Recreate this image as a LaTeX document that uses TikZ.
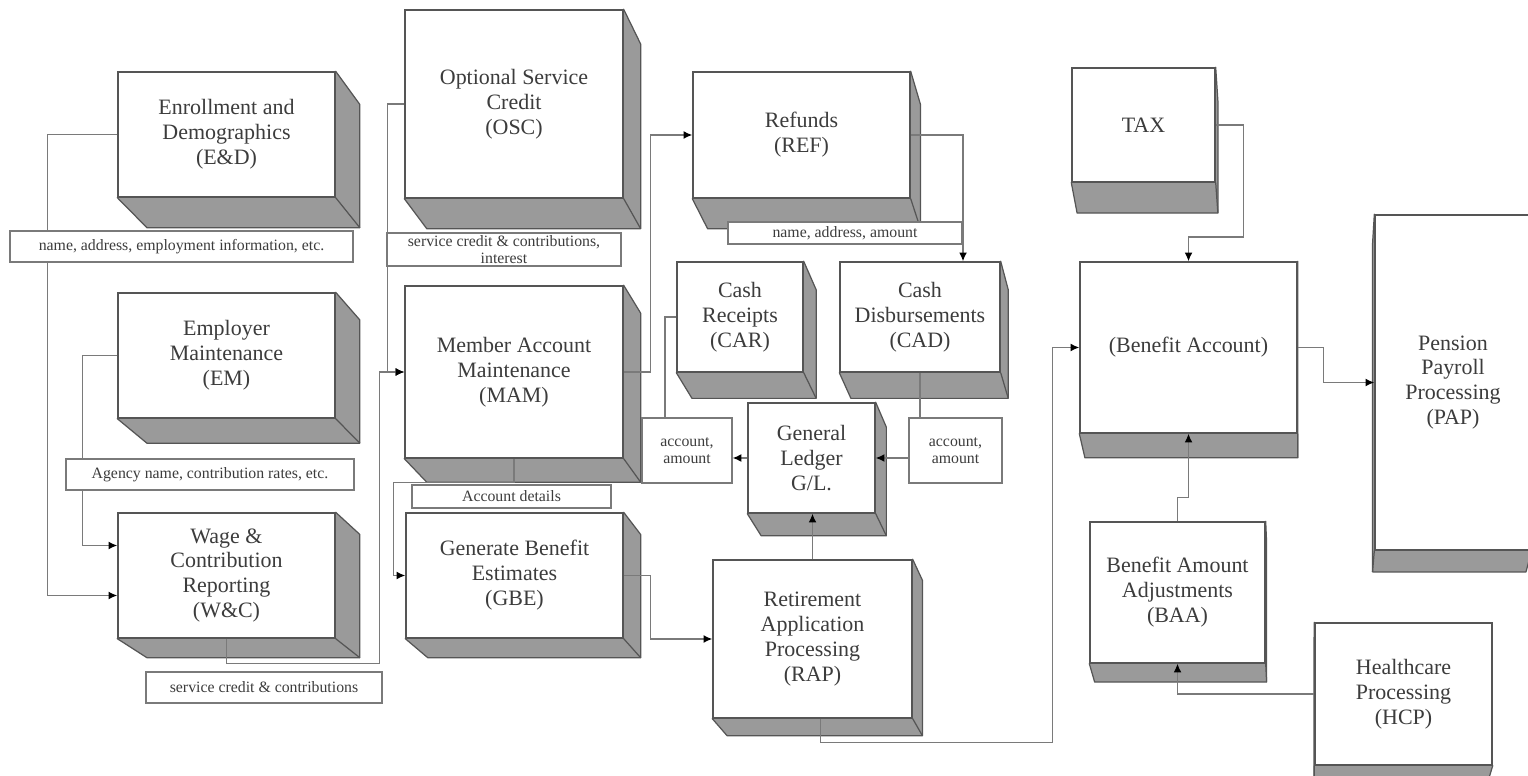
\documentclass[tikz,border=0pt]{standalone}
\usepackage{fontspec}
\setmainfont{Liberation Serif}
\usetikzlibrary{calc,arrows.meta}

\pgfdeclarelayer{shade}
\pgfdeclarelayer{lines}
\pgfsetlayers{shade,lines,main}

\definecolor{facegray}{HTML}{9A9A9A}
\definecolor{edgegray}{HTML}{555555}
\definecolor{linegray}{HTML}{7A7A7A}
\definecolor{textgray}{HTML}{3C3C3C}

\newcommand{\depth}{0.025}
% grey sides of a box, vanishing point to the lower right
\newcommand{\sideR}[1]{%
  \begin{pgfonlayer}{shade}
    \filldraw[side] (#1.north east) -- ($(#1.north east)!\depth!(vp)$)
      -- ($(#1.south east)!\depth!(vp)$) -- ($(#1.south west)!\depth!(vp)$)
      -- (#1.south west) -- cycle;
    \draw[side] (#1.south east) -- ($(#1.south east)!\depth!(vp)$);
  \end{pgfonlayer}}
% same, vanishing point to the lower left
\newcommand{\sideL}[1]{%
  \begin{pgfonlayer}{shade}
    \filldraw[side] (#1.north west) -- ($(#1.north west)!\depth!(vp)$)
      -- ($(#1.south west)!\depth!(vp)$) -- ($(#1.south east)!\depth!(vp)$)
      -- (#1.south east) -- cycle;
    \draw[side] (#1.south west) -- ($(#1.south west)!\depth!(vp)$);
  \end{pgfonlayer}}

\begin{document}
\begin{tikzpicture}[x=0.02cm, y=-0.02cm,
    proc/.style={draw=edgegray, line width=0.8pt, fill=white, align=center,
      text=textgray, font=\fontsize{12.5}{14.2}\selectfont, inner sep=2pt},
    note/.style={draw=linegray, line width=0.7pt, fill=white, align=center,
      text=textgray, font=\fontsize{9}{10}\selectfont, inner sep=1pt},
    side/.style={fill=facegray, draw=edgegray, line width=0.7pt, line join=round},
    link/.style={draw=linegray, line width=0.8pt},
    flow/.style={link, -{Latex[length=5pt,width=4.5pt,black]}}]

  \useasboundingbox (0,0) rectangle (1528,776);
  \coordinate (vp) at (1303,1400);

  % processes
  \node[proc, name=ed, minimum width=4.34cm, minimum height=2.5cm] at (226.5,134.5) {Enrollment and\\Demographics\\(E\&D)};
  \node[proc, name=em, minimum width=4.34cm, minimum height=2.5cm] at (226.5,355.5) {Employer\\Maintenance\\(EM)};
  \node[proc, name=wc, minimum width=4.34cm, minimum height=2.5cm] at (226.5,575.5) {Wage \&\\Contribution\\Reporting\\(W\&C)};
  \node[proc, name=osc, minimum width=4.36cm, minimum height=3.76cm] at (514,104) {Optional Service\\Credit\\(OSC)};
  \node[proc, name=mam, minimum width=4.36cm, minimum height=3.44cm] at (514,372) {Member Account\\Maintenance\\(MAM)};
  \node[proc, name=gbe, minimum width=4.34cm, minimum height=2.5cm] at (514.5,575.5) {Generate Benefit\\Estimates\\(GBE)};
  \node[proc, name=ref, minimum width=4.34cm, minimum height=2.52cm] at (801.5,135) {Refunds\\(REF)};
  \node[proc, name=car, minimum width=2.52cm, minimum height=2.2cm] at (740,317) {Cash\\Receipts\\(CAR)};
  \node[proc, name=cad, minimum width=3.2cm, minimum height=2.2cm] at (920,317) {Cash\\Disbursements\\(CAD)};
  \node[proc, name=gl, minimum width=2.54cm, minimum height=2.2cm] at (811.5,458) {General\\Ledger\\G/L.};
  \node[proc, name=rap, minimum width=3.98cm, minimum height=3.16cm] at (812.5,639) {Retirement\\Application\\Processing\\(RAP)};
  \node[proc, name=tax, minimum width=2.86cm, minimum height=2.28cm] at (1143.5,125) {TAX};
  \node[proc, name=ben, minimum width=4.34cm, minimum height=3.42cm] at (1188.5,347.5) {(Benefit Account)};
  \node[proc, name=baa, minimum width=3.5cm, minimum height=2.82cm] at (1177.5,592.5) {Benefit Amount\\Adjustments\\(BAA)};
  \node[proc, name=pap, minimum width=3.12cm, minimum height=6.7cm] at (1453,382.5) {Pension\\Payroll\\Processing\\(PAP)};
  \node[proc, name=hcp, minimum width=3.54cm, minimum height=2.84cm] at (1403.5,694) {Healthcare\\Processing\\(HCP)};

  \sideR{ed} \sideR{em} \sideR{wc} \sideR{osc} \sideR{mam} \sideR{gbe}
  \sideR{ref} \sideR{car} \sideR{cad} \sideR{gl} \sideR{rap}
  \sideR{tax} \sideR{ben} \sideR{baa}
  \sideL{pap} \sideL{hcp}

  % data labels
  \node[note, name=led, minimum width=6.86cm, minimum height=0.62cm] at (181.5,246.5) {name, address, employment information, etc.};
  \node[note, name=losc, minimum width=4.68cm, minimum height=0.66cm] at (504,249.5) {service credit \& contributions,\\interest};
  \node[note, name=lref, minimum width=4.68cm, minimum height=0.44cm] at (845,233) {name, address, amount};
  \node[note, name=lem, minimum width=5.76cm, minimum height=0.62cm] at (210,474.5) {Agency name, contribution rates, etc.};
  \node[note, name=lmam, minimum width=3.98cm, minimum height=0.46cm] at (511.5,496.5) {Account details};
  \node[note, name=lwc, minimum width=4.72cm, minimum height=0.62cm] at (264,687.5) {service credit \& contributions};
  \node[note, name=acl, minimum width=1.8cm, minimum height=1.3cm] at (687,450.5) {account,\\amount};
  \node[note, name=acr, minimum width=1.86cm, minimum height=1.3cm] at (955.5,450.5) {account,\\amount};

  \begin{pgfonlayer}{lines}
    \draw[flow] (ed.west) -- ++(-70,0) |- ($(wc.west)+(0,20)$);
    \draw[flow] (em.west) -- ++(-35,0) |- ($(wc.west)+(0,-30)$);
    \draw[flow] (wc.south) -- ++(0,25) -| ($(mam.west)+(-25,0)$) -- (mam.west);
    \draw[flow] (osc.west) -- ++(-17,0) |- (mam.west);
    \draw[flow] (mam.south) -- ++(0,24) -| ($(gbe.west)+(-12,0)$) -- (gbe.west);
    \draw[flow] (mam.east) -- ++(27,0) |- (ref.west);
    \draw[flow] (ref.east) -| ($(cad.north)+(43,0)$);
    \draw[link] (car.west) -| ($(acl.north)+(-22,0)$);
    \draw[flow] (gl.west) -- (gl.west -| acl.east);
    \draw[link] (cad.south) -- (cad.south |- acr.north);
    \draw[flow] (gl.east -| acr.west) -- (gl.east);
    \draw[flow] (rap.north) -- (rap.north |- gl.south);
    \draw[flow] (gbe.east) -- ++(27,0) |- (rap.west);
    \draw[flow] ($(rap.south)+(8,0)$) -- ++(0,24) -| ($(ben.west)+(-27,0)$) -- (ben.west);
    \draw[flow] (tax.east) -- ++(28,0) -- ++(0,112) -| (ben.north);
    \draw[flow] (ben.east) -- ++(26,0) |- (pap.west);
    \draw[flow] (baa.north) -- ++(0,-24) -| (ben.south);
    \draw[flow] (hcp.west) -| (baa.south);
  \end{pgfonlayer}
\end{tikzpicture}
\end{document}
